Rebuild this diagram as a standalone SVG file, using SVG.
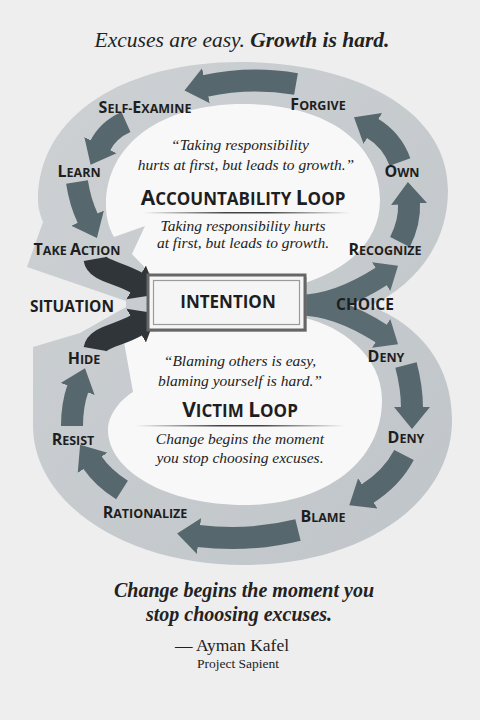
<svg xmlns="http://www.w3.org/2000/svg" width="480" height="720" viewBox="0 0 480 720">
<defs>
<style>
.lbl{font-family:"Open Sans","DejaVu Sans",sans-serif;font-weight:700;font-size:12.5px;fill:#1e1e1e;text-anchor:middle}
.big{font-size:16px}
.cap{font-family:"Open Sans","DejaVu Sans",sans-serif;font-weight:700;fill:#1e1e1e;text-anchor:middle}
.it{font-family:"Liberation Serif","Times New Roman",serif;font-style:italic;fill:#222;text-anchor:middle}
.ring{fill:none;stroke:#56676e;stroke-width:22}
.dark{fill:none;stroke:#2f3539;stroke-width:23}
.teal{fill:none;stroke:#5a6c72;stroke-width:21}
</style>
<marker id="ah" markerUnits="userSpaceOnUse" markerWidth="26" markerHeight="40" viewBox="0 -20 26 40" refX="1" refY="0" orient="auto"><path d="M0,-18 L22,0 L0,18 Z" fill="#56676e"/></marker>
<marker id="aht" markerUnits="userSpaceOnUse" markerWidth="26" markerHeight="40" viewBox="0 -20 26 40" refX="1" refY="0" orient="auto"><path d="M0,-17 L20,0 L0,17 Z" fill="#5a6c72"/></marker>
<marker id="ahd" markerUnits="userSpaceOnUse" markerWidth="28" markerHeight="44" viewBox="0 -22 28 44" refX="1" refY="0" orient="auto"><path d="M0,-19.5 L24,0 L0,19.5 Z" fill="#2f3539"/></marker>
<linearGradient id="rule" x1="0" x2="1" y1="0" y2="0">
<stop offset="0" stop-color="#444" stop-opacity="0"/>
<stop offset="0.4" stop-color="#444"/>
<stop offset="0.6" stop-color="#444"/>
<stop offset="1" stop-color="#444" stop-opacity="0"/>
</linearGradient>
<linearGradient id="band" x1="0" y1="0" x2="1" y2="1">
<stop offset="0" stop-color="#cdd1d4"/>
<stop offset="1" stop-color="#c0c5c9"/>
</linearGradient>
</defs>

<rect width="480" height="720" fill="#eeeeee"/>

<text class="it" x="242" y="47" font-size="21.5">Excuses are easy. <tspan font-weight="700">Growth is hard.</tspan></text>

<g id="bands">
<path d="M240,62 C355,62 448,110 448,190 C448,245 415,285 370,306 C420,325 452,365 452,420 C452,505 360,565 244,565 C128,565 33,505 33,425 C33,390 33,365 33,347 L80,333 L126,307 L126,301 L27,267 L43,222 C39,212 38,206 38,200 C38,115 125,62 240,62 Z" fill="url(#band)"/>
<path d="M243,104 C330,104 380,145 380,200 C380,240 350,268 305,283 L305,292 L148,292 L150,273 L132,254 L145,226 L114,237 C108,226 106,216 106,205 C106,145 160,104 243,104 Z" fill="#f8f8f8"/>
<path d="M305,318 C340,326 382,355 382,400 C382,465 320,505 245,505 C165,505 108,470 108,430 C108,415 120,400 133,392 L124,342 L148,332 Z" fill="#f8f8f8"/>
</g>

<g id="connectors">
<path class="ring" d="M400,242 Q410,222 409,203" marker-end="url(#ah)"/>
<path class="ring" d="M400,162 Q392,140 372,128" marker-end="url(#ah)"/>
<path class="ring" d="M296,84 Q250,76 205,86" marker-end="url(#ah)"/>
<path class="ring" d="M126,122 Q108,130 100,146" marker-end="url(#ah)"/>
<path class="ring" d="M77,182 Q80,202 88,219" marker-end="url(#ah)"/>
<path class="dark" d="M95,259 C97,271 118,272 137,283" marker-end="url(#ahd)"/>
<path class="dark" d="M95,349 C97,337 118,336 137,325" marker-end="url(#ahd)"/>
<path class="teal" d="M300,305 C330,305 360,290 382,276" marker-end="url(#aht)"/>
<path class="teal" d="M300,305 C330,305 360,320 382,334" marker-end="url(#aht)"/>
<path class="ring" d="M406,365 Q412,388 412,408" marker-end="url(#ah)"/>
<path class="ring" d="M404,455 Q392,478 367,494" marker-end="url(#ah)"/>
<path class="ring" d="M298,530 Q250,542 198,536" marker-end="url(#ah)"/>
<path class="ring" d="M122,490 Q103,478 92,462" marker-end="url(#ah)"/>
<path class="ring" d="M72,426 Q72,405 78,388" marker-end="url(#ah)"/>
</g>

<g id="intention">
<rect x="150" y="277" width="157" height="55" fill="#8a8a8a" opacity="0.45"/>
<rect x="148" y="275" width="157" height="55" fill="#f5f5f5" stroke="#666" stroke-width="3"/>
<rect x="153.5" y="280.5" width="146" height="44" fill="none" stroke="#9a9a9a" stroke-width="1.2"/>
<text class="cap" x="228" y="308" font-size="17">INTENTION</text>
</g>

<g id="situation"><text class="cap" x="72" y="312" font-size="15.5">SITUATION</text></g>
<g id="choice"><text class="cap" x="365" y="310" font-size="15.5">CHOICE</text></g>

<g id="self-examine"><text class="lbl" x="145" y="113"><tspan class="big">S</tspan>ELF-<tspan class="big">E</tspan>XAMINE</text></g>
<g id="forgive"><text class="lbl" x="318" y="110"><tspan class="big">F</tspan>ORGIVE</text></g>
<g id="learn"><text class="lbl" x="79" y="177"><tspan class="big">L</tspan>EARN</text></g>
<g id="own"><text class="lbl" x="402" y="177"><tspan class="big">O</tspan>WN</text></g>
<g id="take-action"><text class="lbl" x="77" y="255"><tspan class="big">T</tspan>AKE <tspan class="big">A</tspan>CTION</text></g>
<g id="recognize"><text class="lbl" x="385" y="255"><tspan class="big">R</tspan>ECOGNIZE</text></g>
<g id="hide"><text class="lbl" x="84" y="364"><tspan class="big">H</tspan>IDE</text></g>
<g id="deny1"><text class="lbl" x="386" y="362"><tspan class="big">D</tspan>ENY</text></g>
<g id="resist"><text class="lbl" x="73" y="445"><tspan class="big">R</tspan>ESIST</text></g>
<g id="deny2"><text class="lbl" x="406" y="443"><tspan class="big">D</tspan>ENY</text></g>
<g id="rationalize"><text class="lbl" x="145" y="518"><tspan class="big">R</tspan>ATIONALIZE</text></g>
<g id="blame"><text class="lbl" x="323" y="522"><tspan class="big">B</tspan>LAME</text></g>

<g id="accountability-loop">
<text class="it" x="240" y="150" font-size="15.5">“Taking responsibility</text>
<text class="it" x="246" y="170" font-size="15.5">hurts at first, but leads to growth.”</text>
<text class="cap" x="243" y="205" font-size="17"><tspan font-size="21">A</tspan>CCOUNTABILITY <tspan font-size="21">L</tspan>OOP</text>
<rect x="143" y="212" width="207" height="1.5" fill="url(#rule)"/>
<text class="it" x="243" y="231" font-size="15.5">Taking responsibility hurts</text>
<text class="it" x="243" y="248" font-size="15.5">at first, but leads to growth.</text>
</g>

<g id="victim-loop">
<text class="it" x="240" y="366" font-size="15.5">“Blaming others is easy,</text>
<text class="it" x="240" y="386" font-size="15.5">blaming yourself is hard.”</text>
<text class="cap" x="240" y="417" font-size="17"><tspan font-size="21">V</tspan>ICTIM <tspan font-size="21">L</tspan>OOP</text>
<rect x="135" y="425" width="210" height="1.5" fill="url(#rule)"/>
<text class="it" x="240" y="444" font-size="15.5">Change begins the moment</text>
<text class="it" x="240" y="463" font-size="15.5">you stop choosing excuses.</text>
</g>

<g id="footer">
<text class="it" x="244" y="597" font-size="20" font-weight="700">Change begins the moment you</text>
<text class="it" x="239" y="621" font-size="20" font-weight="700">stop choosing excuses.</text>
<text x="232" y="651" font-family="Liberation Serif, serif" font-size="17.5" fill="#222" text-anchor="middle">— Ayman Kafel</text>
<text x="238" y="668" font-family="Liberation Serif, serif" font-size="13.5" fill="#222" text-anchor="middle">Project Sapient</text>
</g>
</svg>
